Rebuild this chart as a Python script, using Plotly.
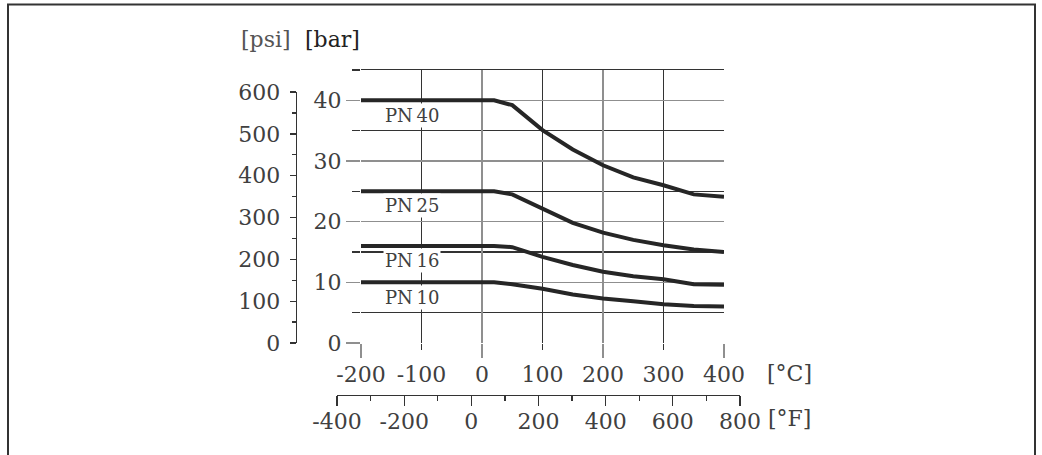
import plotly.graph_objects as go

# ---------------- data ----------------
temps_c = [-200, 20, 50, 100, 150, 200, 250, 300, 350, 400]
pn40 = [40, 40, 39.2, 35.1, 31.9, 29.3, 27.3, 26.0, 24.5, 24.1]
pn25 = [25, 25, 24.5, 22.2, 19.8, 18.2, 17.0, 16.1, 15.4, 15.0]
pn16 = [16, 16, 15.8, 14.2, 12.85, 11.75, 11.0, 10.5, 9.7, 9.6]
pn10 = [10, 10, 9.7, 8.95, 8.0, 7.35, 6.9, 6.4, 6.1, 6.0]
series_names = ["PN\u200940", "PN\u200925", "PN\u200916", "PN\u200910"]
series_vals = [pn40, pn25, pn16, pn10]
label_bar = [37.5, 22.6, 13.6, 7.5]   # label anchor heights (bar)
label_temp = -116

c_ticks = [-200, -100, 0, 100, 200, 300, 400]
f_ticks = [-400, -200, 0, 200, 400, 600, 800]
bar_range = [0, 45]
c_range = [-200, 400]
f_range = [-400, 800]
psi_max = 600
PSI_PER_BAR = 14.5038

# ---------------- layout geometry (pixels) ----------------
W, H = 1042, 455
FONT = "DejaVu Serif, serif"
TXT = "#404040"
GRAY = "#8f8f8f"
DARK = "#333333"

px_left, px_right = 361, 724
py_bottom, py_top = 343, 70

def fx(p):
    return p / W

def fy(p):
    return 1 - p / H

# psi axis top from conversion
psi_top_px = py_bottom - (psi_max / PSI_PER_BAR) / bar_range[1] * (py_bottom - py_top)

fig = go.Figure()

for name, vals in zip(series_names, series_vals):
    fig.add_trace(go.Scatter(x=temps_c, y=vals, mode="lines",
                             line=dict(color="#262626", width=4),
                             showlegend=False, hoverinfo="skip", name=name,
                             xaxis="x", yaxis="y"))

# helper traces so secondary axes render
fig.add_trace(go.Scatter(x=[None], y=[None], xaxis="x4", yaxis="y", showlegend=False))
fig.add_trace(go.Scatter(x=[None], y=[None], xaxis="x5", yaxis="y", showlegend=False))
fig.add_trace(go.Scatter(x=[None], y=[None], xaxis="x2", yaxis="y3", showlegend=False))
fig.add_trace(go.Scatter(x=[None], y=[None], xaxis="x3", yaxis="y2", showlegend=False))

tickfont = dict(family=FONT, size=22, color=TXT)

fig.update_layout(
    width=W, height=H,
    margin=dict(l=0, r=0, t=0, b=0, pad=0, autoexpand=False),
    paper_bgcolor="white", plot_bgcolor="white",
    showlegend=False,
    font=dict(family=FONT, color=TXT),
    xaxis=dict(domain=[fx(px_left), fx(px_right)], range=c_range, anchor="y",
               automargin=False,
               tick0=0, dtick=200, ticks="outside", ticklen=14, tickwidth=1.3,
               tickcolor=GRAY, showgrid=True, gridcolor=GRAY, gridwidth=1.3,
               zeroline=False, showline=False, showticklabels=False,
               minor=dict(dtick=100, ticks="outside", ticklen=6, tickwidth=1.3,
                          tickcolor=DARK, showgrid=True, gridcolor=DARK, gridwidth=1.2)),
    xaxis4=dict(overlaying="x", matches="x", anchor="y", range=c_range,
                automargin=False,
                tickvals=c_ticks, ticktext=[str(v) for v in c_ticks],
                ticks="", showgrid=False, zeroline=False, showline=False,
                tickfont=tickfont, ticklabelstandoff=16, side="bottom"),
    # top border line of the grid (45 bar)
    xaxis5=dict(overlaying="x", matches="x", anchor="y", range=c_range,
                automargin=False, side="top", ticks="", showticklabels=False,
                showgrid=False, zeroline=False, showline=True,
                linecolor=DARK, linewidth=1.3),
    yaxis=dict(domain=[fy(py_bottom), fy(py_top)], range=bar_range, anchor="x",
               automargin=False,
               tick0=0, dtick=10, ticks="outside", ticklen=14, tickwidth=1.3,
               tickcolor=GRAY, showgrid=True, gridcolor=GRAY, gridwidth=1.3,
               zeroline=False, showline=False, tickfont=tickfont, ticklabelstandoff=0,
               minor=dict(dtick=5, ticks="outside", ticklen=8, tickwidth=1.3,
                          tickcolor=DARK, showgrid=True, gridcolor=DARK, gridwidth=1.2)),
    # Fahrenheit axis
    xaxis2=dict(domain=[fx(337), fx(740)], range=f_range, anchor="y3",
                automargin=False,
                tickvals=f_ticks, ticktext=[str(v) for v in f_ticks],
                ticks="outside", ticklen=10, tickwidth=1.3,
                tickcolor=DARK, showline=True, linecolor=DARK, linewidth=1.3,
                showgrid=False, zeroline=False, tickfont=tickfont, ticklabelstandoff=-4,
                minor=dict(tick0=0, dtick=100, ticks="outside", ticklen=5, tickwidth=1.3,
                           tickcolor=DARK)),
    yaxis3=dict(domain=[fy(395), fy(395) + 0.01], visible=False, anchor="x2",
                automargin=False),
    # psi axis
    yaxis2=dict(domain=[fy(py_bottom), fy(psi_top_px)], range=[0, psi_max], anchor="x3",
                automargin=False,
                tick0=0, dtick=100, ticks="outside", ticklen=6, tickwidth=1.3,
                tickcolor=DARK, showline=True, linecolor=DARK, linewidth=1.3,
                showgrid=False, zeroline=False, tickfont=tickfont, ticklabelstandoff=5,
                minor=dict(dtick=50, ticks="outside", ticklen=4, tickwidth=1.3, tickcolor=DARK)),
    xaxis3=dict(domain=[fx(297), fx(297) + 0.01], visible=False, anchor="y2",
                automargin=False),
)

# PN labels
for name, yb in zip(series_names, label_bar):
    fig.add_annotation(x=label_temp, y=yb, xref="x", yref="y", text=name,
                       showarrow=False, bgcolor="white", borderpad=1,
                       xanchor="center", yanchor="middle",
                       font=dict(family=FONT, size=18, color=TXT))

# unit labels
units = [("[psi]", 266, 39, "#555555"), ("[bar]", 332, 39, "#222222"),
         ("[°C]", 789, 373, TXT), ("[°F]", 789, 418, TXT)]
for txt, ux, uy, col in units:
    fig.add_annotation(x=fx(ux), y=fy(uy), xref="paper", yref="paper", text=txt,
                       showarrow=False, xanchor="center", yanchor="middle",
                       font=dict(family=FONT, size=22, color=col))

# frame
fig.add_shape(type="rect", xref="paper", yref="paper",
              x0=fx(8), x1=fx(1035), y0=-0.2, y1=fy(4.5),
              line=dict(color="#333333", width=2))

fig.write_html("out.html",
               config={"displayModeBar": False, "staticPlot": True},
               post_script="document.body.style.margin='0';document.body.style.overflow='hidden';")
